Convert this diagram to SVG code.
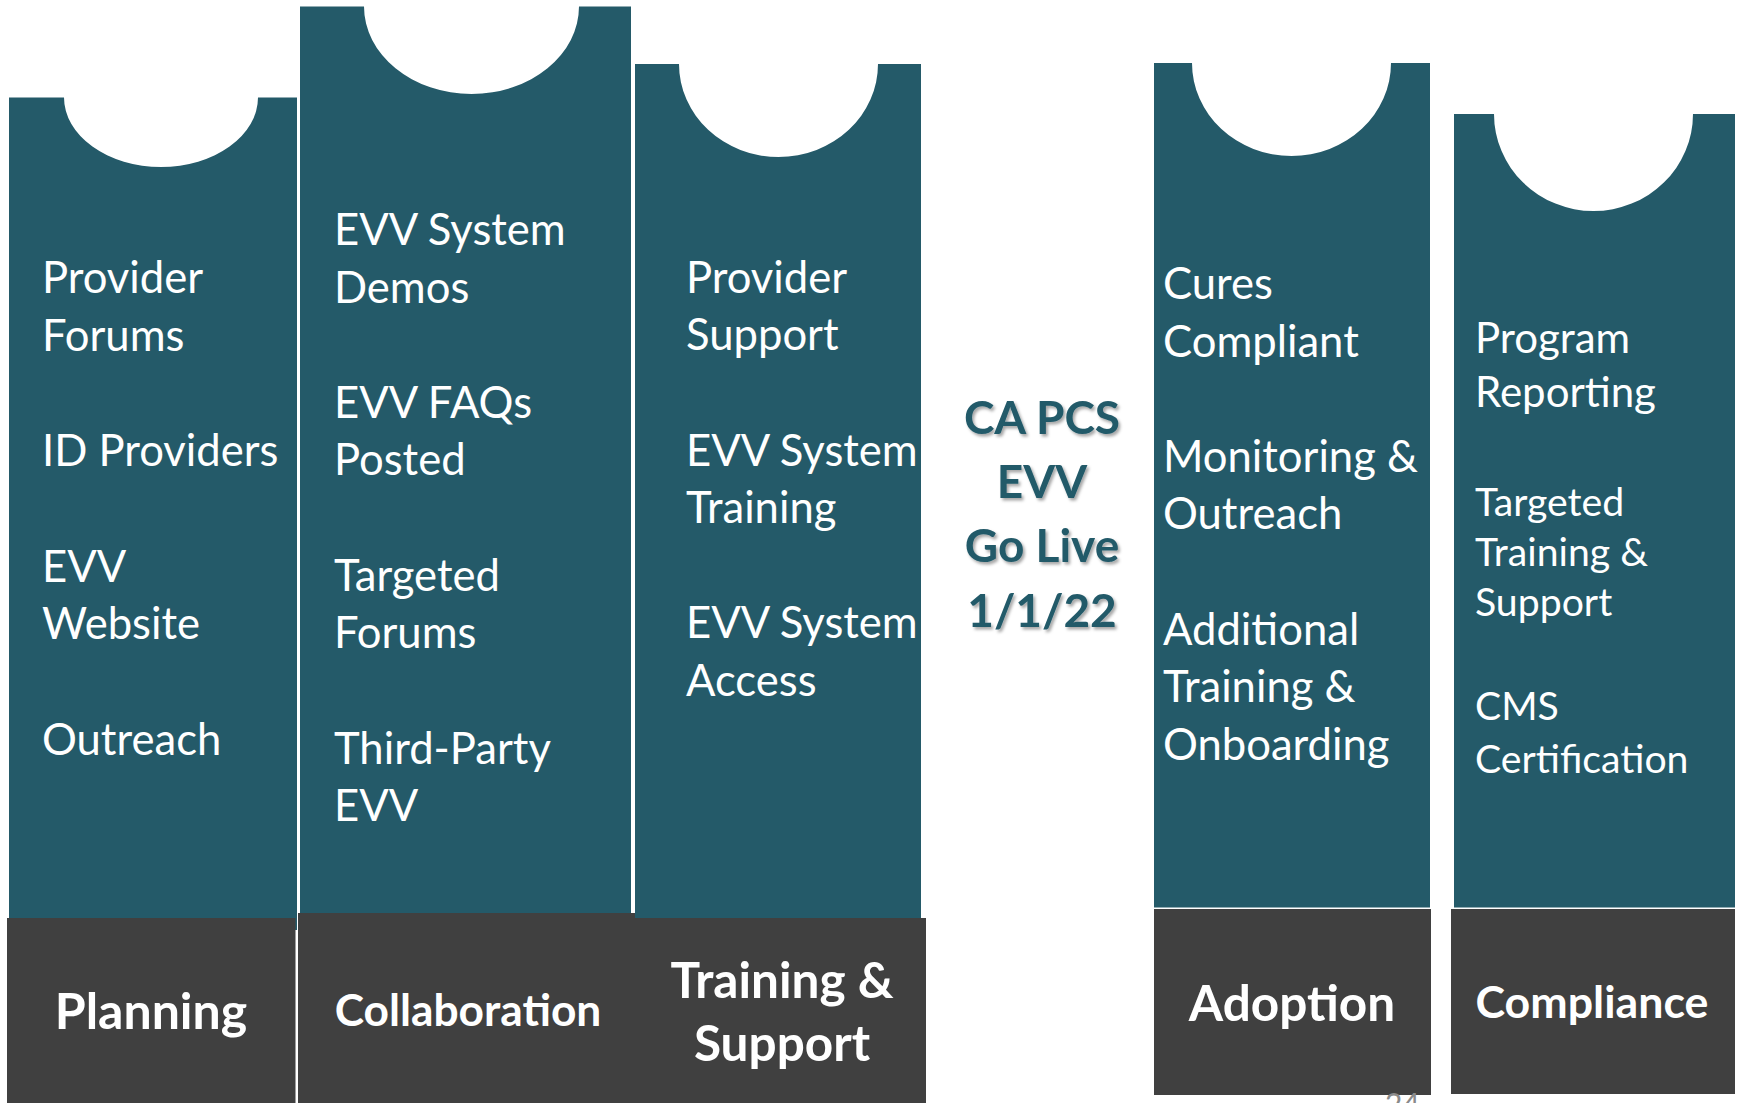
<svg xmlns="http://www.w3.org/2000/svg" width="1738" height="1103" viewBox="0 0 1738 1103">
<defs>
<style>
.teal{fill:#245A69}
.dark{fill:#404040}
.body{font-family:Lato,"Liberation Sans",sans-serif;font-size:43.6px;fill:#ffffff}
.small{font-size:39.2px}
.mid{font-size:42px}
.label{font-family:Lato,"Liberation Sans",sans-serif;font-weight:bold;fill:#ffffff;text-anchor:middle}
.center{font-family:Lato,"Liberation Sans",sans-serif;font-weight:bold;font-size:46px;fill:#245A69;text-anchor:middle}
.page{font-family:Lato,"Liberation Sans",sans-serif;font-size:30px;fill:#8a8a8a}
</style>
<filter id="shadow" x="-10%" y="-20%" width="130%" height="150%">
<feDropShadow dx="2" dy="2.5" stdDeviation="1.5" flood-color="#000000" flood-opacity="0.35"/>
</filter>
</defs>
<rect x="0" y="0" width="1738" height="1103" fill="#ffffff"/>
<g id="connectors"/>
<g id="planning">
<path class="teal" d="M9,97.5 H64 A97,69.5 0 0 0 258,97.5 H297 V930 H9 Z"/>
<rect class="dark" x="7" y="918" width="288.5" height="185"/>
<text class="body"><tspan x="42" y="293">Provider</tspan><tspan x="42" y="351">Forums</tspan><tspan x="42" y="466">ID Providers</tspan><tspan x="42" y="582">EVV</tspan><tspan x="42" y="639">Website</tspan><tspan x="42" y="755">Outreach</tspan></text>
<text class="label" x="151" y="1029" font-size="50">Planning</text>
</g>
<g id="collaboration">
<path class="teal" d="M300,6.5 H364 A107.5,87.5 0 0 0 579,6.5 H631 V915 H300 Z"/>
<rect class="dark" x="298" y="913" width="340.5" height="190"/>
<text class="body"><tspan x="334" y="245">EVV System</tspan><tspan x="334" y="303">Demos</tspan><tspan x="334" y="418">EVV FAQs</tspan><tspan x="334" y="475">Posted</tspan><tspan x="334" y="591">Targeted</tspan><tspan x="334" y="648">Forums</tspan><tspan x="334" y="764">Third-Party</tspan><tspan x="334" y="821">EVV</tspan></text>
<text class="label" x="468" y="1026" font-size="44.3">Collaboration</text>
</g>
<g id="training-support">
<path class="teal" d="M635,64 H679 A99.5,93 0 0 0 878,64 H921 V920 H635 Z"/>
<rect class="dark" x="634" y="918" width="292" height="185"/>
<text class="body"><tspan x="686" y="293">Provider</tspan><tspan x="686" y="350">Support</tspan><tspan x="686" y="466">EVV System</tspan><tspan x="686" y="523">Training</tspan><tspan x="686" y="638">EVV System</tspan><tspan x="686" y="696">Access</tspan></text>
<text class="label" font-size="49.5"><tspan x="782" y="998">Training &amp;</tspan><tspan x="782" y="1061">Support</tspan></text>
</g>
<g id="go-live">
<text class="center" filter="url(#shadow)"><tspan x="1042" y="434">CA PCS</tspan><tspan x="1042" y="498">EVV</tspan><tspan x="1042" y="562">Go Live</tspan><tspan x="1042" y="627">1/1/22</tspan></text>
</g>
<g id="adoption">
<path class="teal" d="M1154,63 H1192 A99.5,93 0 0 0 1391,63 H1430 V907.5 H1154 Z"/>
<rect class="dark" x="1154" y="909" width="277" height="186"/>
<text class="body"><tspan x="1163" y="299">Cures</tspan><tspan x="1163" y="357">Compliant</tspan><tspan x="1163" y="472">Monitoring &amp;</tspan><tspan x="1163" y="529">Outreach</tspan><tspan x="1163" y="645">Additional</tspan><tspan x="1163" y="702">Training &amp;</tspan><tspan x="1163" y="760">Onboarding</tspan></text>
<text class="label" x="1292" y="1021" font-size="49.5">Adoption</text>
</g>
<g id="compliance">
<path class="teal" d="M1454,114 H1494 A99.5,97 0 0 0 1693,114 H1735 V907.5 H1454 Z"/>
<rect class="dark" x="1451" y="909" width="284" height="185"/>
<text class="body mid"><tspan x="1475" y="353">Program</tspan><tspan x="1475" y="407">Reporting</tspan></text>
<text class="body small"><tspan x="1475" y="516">Targeted</tspan><tspan x="1475" y="566">Training &amp;</tspan><tspan x="1475" y="616">Support</tspan><tspan x="1475" y="720">CMS</tspan><tspan x="1475" y="773">Certification</tspan></text>
<text class="label" x="1592" y="1018" font-size="44.7">Compliance</text>
</g>
<text class="page" x="1385" y="1115">24</text>
</svg>
